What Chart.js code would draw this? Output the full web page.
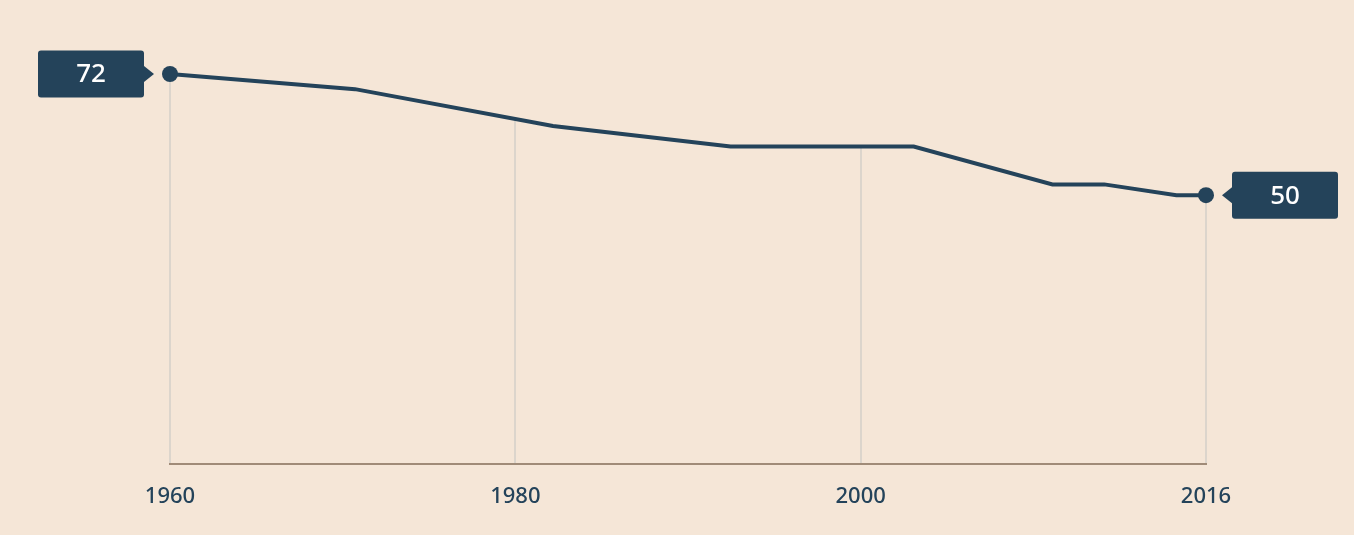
<!DOCTYPE html>
<html>
<head>
<meta charset="utf-8">
<script src="https://cdn.jsdelivr.net/npm/chart.js@4"></script>
<style>
  html, body { margin:0; padding:0; background:#f5e6d7; }
  #wrap { width:1354px; height:535px; }
</style>
</head>
<body>
<div id="wrap"><canvas id="lineChart" width="1354" height="535"></canvas></div>
<script>
// ── data ──
const YEARS  = [1960, 1970, 1980.7, 1990.3, 2000.2, 2007.7, 2010.5, 2014.4, 2016];
const VALUES = [72, 69.2, 62.4, 58.6, 58.6, 51.6, 51.6, 49.6, 49.6];
const TICK_LABELS = ['1960', '1980', '2000', '2016'];
const END_LABELS  = ['72', '50'];

const BG = '#f5e6d7';
const NAVY = '#24435a';

// ── hide the part of the last grid line above the line ──
const gridMask = {
  id: 'gridMask',
  beforeDatasetsDraw(chart) {
    const pts = chart.getDatasetMeta(0).data;
    const p = pts[pts.length - 1];
    const ctx = chart.ctx;
    ctx.save();
    ctx.fillStyle = BG;
    ctx.fillRect(p.x - 2, chart.chartArea.top - 2, 4, p.y - chart.chartArea.top + 2);
    ctx.restore();
  }
};

// ── value boxes at first/last point ──
const boxPlugin = {
  id: 'endBoxes',
  afterDatasetsDraw(chart) {
    const pts = chart.getDatasetMeta(0).data;
    const ctx = chart.ctx;
    const w = 106, h = 47, gap = 26, arrow = 10, r = 3;
    [[pts[0], -1, END_LABELS[0]], [pts[pts.length - 1], 1, END_LABELS[1]]].forEach(([p, dir, txt]) => {
      const y0 = p.y - h / 2;
      const x0 = dir < 0 ? p.x - gap - w : p.x + gap;
      ctx.save();
      ctx.fillStyle = NAVY;
      ctx.beginPath();
      ctx.roundRect(x0, y0, w, h, r);
      ctx.fill();
      // pointer
      const edge = dir < 0 ? x0 + w : x0;
      ctx.beginPath();
      ctx.moveTo(edge, p.y - 8);
      ctx.lineTo(edge - dir * arrow, p.y);
      ctx.lineTo(edge, p.y + 8);
      ctx.closePath();
      ctx.fill();
      ctx.fillStyle = '#ffffff';
      ctx.font = '500 26px "Noto Sans"';
      ctx.textAlign = 'center';
      ctx.textBaseline = 'middle';
      ctx.fillText(txt, x0 + w / 2, p.y + 1);
      ctx.restore();
    });
  }
};

function initChart() {
  const canvas = document.getElementById('lineChart');
  const last = YEARS.length - 1;
  new Chart(canvas.getContext('2d'), {
    type: 'line',
    data: {
      datasets: [{
        data: YEARS.map((x, i) => ({ x, y: VALUES[i] })),
        borderColor: NAVY, borderWidth: 4, tension: 0,
        pointRadius: VALUES.map((v, i) => (i === 0 || i === last) ? 8 : 0),
        pointHoverRadius: 0,
        pointBackgroundColor: NAVY, pointBorderWidth: 0,
        fill: 'end', backgroundColor: BG,
        clip: false,
      }]
    },
    options: {
      responsive: false,
      animation: false,
      layout: { padding: { left: 170, right: 148, top: 74, bottom: 5 } },
      plugins: { legend: { display: false }, tooltip: { enabled: false } },
      scales: {
        x: {
          type: 'linear', min: YEARS[0], max: YEARS[last],
          afterBuildTicks: (axis) => {
            const step = (axis.max - axis.min) / (TICK_LABELS.length - 1);
            axis.ticks = TICK_LABELS.map((_, i) => ({ value: axis.min + i * step }));
          },
          ticks: {
            padding: 20, color: NAVY, maxRotation: 0,
            font: { size: 22, weight: '500', family: '"Noto Sans"' },
            callback: (v, i) => TICK_LABELS[i],
          },
          grid: { color: '#dcd5cc', lineWidth: 2, drawTicks: false },
          border: { color: '#a08b78', width: 2 },
        },
        y: { display: false, min: 0, max: 72 }
      }
    },
    plugins: [gridMask, boxPlugin]
  });
}

document.addEventListener('DOMContentLoaded', initChart);
</script>
</body>
</html>
